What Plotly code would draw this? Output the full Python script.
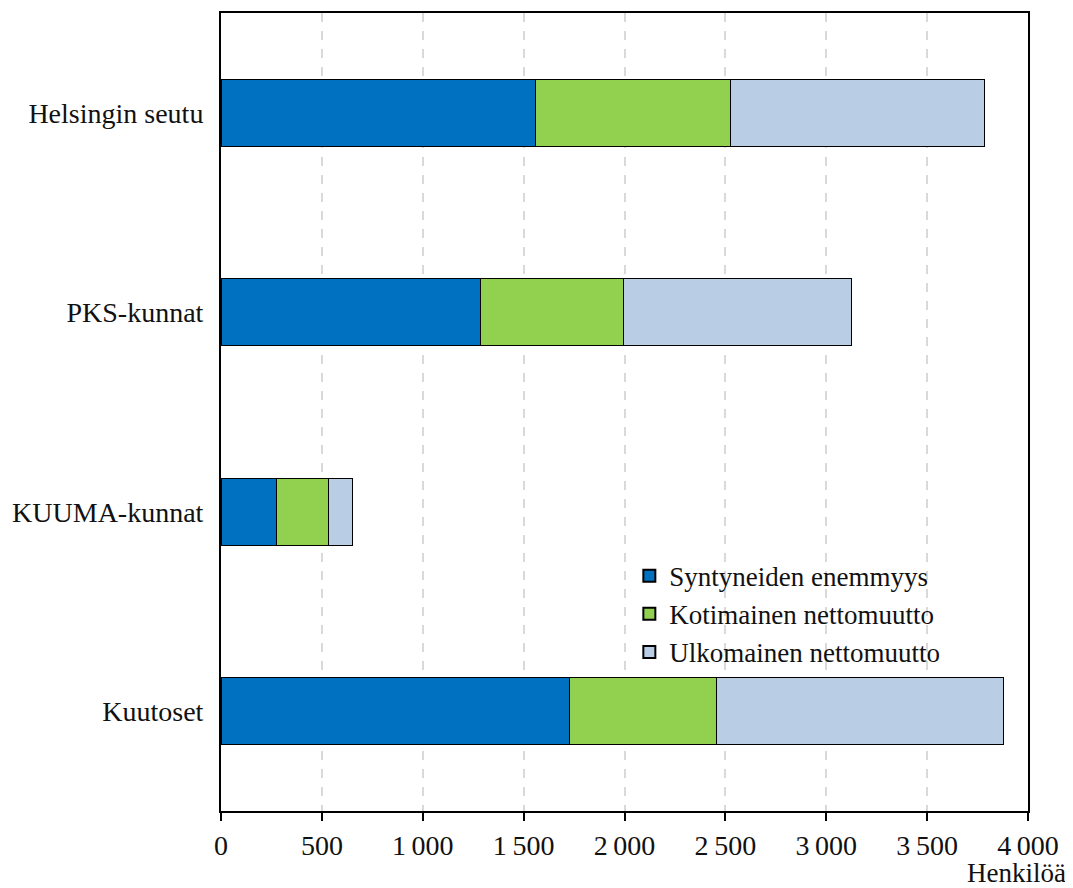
import plotly.graph_objects as go

categories = ["Helsingin seutu", "PKS-kunnat", "KUUMA-kunnat", "Kuutoset"]
syntyneiden = [1561, 1284, 273, 1725]
kotimainen = [962, 713, 262, 729]
ulkomainen = [1259, 1126, 119, 1427]
series_names = ["Syntyneiden enemmyys", "Kotimainen nettomuutto", "Ulkomainen nettomuutto"]
colors = ["#0070C0", "#92D050", "#B9CDE5"]
tick_vals = [0, 500, 1000, 1500, 2000, 2500, 3000, 3500, 4000]
tick_text = ["0", "500", "1\u2009000", "1\u2009500", "2\u2009000", "2\u2009500", "3\u2009000", "3\u2009500", "4\u2009000"]

FONT = "Liberation Serif"
fig = go.Figure()
for name, vals, col in zip(series_names, [syntyneiden, kotimainen, ulkomainen], colors):
    fig.add_trace(go.Bar(
        y=categories, x=vals, name=name, orientation="h",
        marker=dict(color=col, line=dict(color="black", width=1)),
        width=0.335,
    ))

fig.update_layout(
    barmode="stack",
    width=1065, height=880,
    paper_bgcolor="white", plot_bgcolor="white",
    margin=dict(l=213, r=45, t=5, b=77, autoexpand=False),
    font=dict(family=FONT, size=28, color="#111111"),
    showlegend=True,
    legend=dict(x=0.506, y=0.325, xanchor="left", yanchor="top",
                bgcolor="rgba(0,0,0,0)", font=dict(family=FONT, size=27),
                traceorder="normal", itemsizing="constant", tracegroupgap=0,
                itemwidth=30),
    bargap=0.665,
)
fig.update_xaxes(
    range=[0, 4000], tickvals=tick_vals, ticktext=tick_text,
    showline=True, linecolor="black", linewidth=2, mirror=True,
    ticks="outside", ticklen=8, tickcolor="black", tickwidth=2,
    showgrid=True, gridcolor="#D9D9D9", griddash="dash", gridwidth=1.5,
    zeroline=False,
    tickfont=dict(family=FONT, size=28),
)
fig.update_yaxes(
    categoryorder="array", categoryarray=categories[::-1],
    showline=True, linecolor="black", linewidth=2, mirror=True,
    ticks="", showgrid=False, ticklabelstandoff=10,
    tickfont=dict(family=FONT, size=28),
)
fig.add_annotation(text="Henkilöä", xref="paper", yref="paper", x=1.0496, y=-0.0985,
                   xanchor="right", yanchor="bottom", showarrow=False,
                   font=dict(family=FONT, size=27))
fig.write_html("out.html")
